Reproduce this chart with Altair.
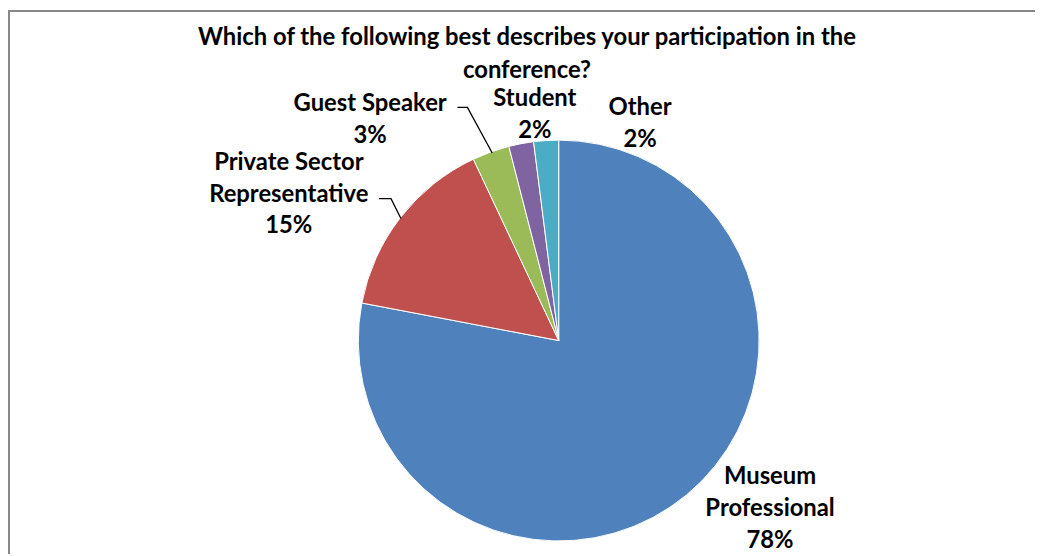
import altair as alt
import pandas as pd

# Data
categories = ["Museum Professional", "Private Sector Representative", "Guest Speaker", "Student", "Other"]
values = [78, 15, 3, 2, 2]
colors = ["#4F81BD", "#C0504D", "#9BBB59", "#8064A2", "#4BACC6"]

title_lines = ["Which of the following best describes your participation in the", "conference?"]

label_lines = {
    "Museum Professional": ["Museum", "Professional", "78%"],
    "Private Sector Representative": ["Private Sector", "Representative", "15%"],
    "Guest Speaker": ["Guest Speaker", "3%"],
    "Student": ["Student", "2%"],
    "Other": ["Other", "2%"],
}

# Layout (pixel positions in plot coordinates)
W, H = 1035, 548
DX, DY = 4, 3
CX, CY, R = 551 + DX, 333, 202
FONT = "Lato"
FS = 24
LH = 32
label_anchor = {
    "Museum Professional": (764, 468),
    "Private Sector Representative": (279, 151),
    "Guest Speaker": (361, 92),
    "Student": (527, 87),
    "Other": (633, 96),
}
leaders = {
    "Guest Speaker": [(449, 97), (459, 97), (484, 143)],
    "Private Sector Representative": [(370, 189), (382, 189), (392, 209)],
}
title_pos = [(519, 25), (519, 58)]

pie_df = pd.DataFrame({"category": categories, "value": values, "idx": list(range(len(categories)))})

lab_rows = []
for c in categories:
    x0, y0 = label_anchor[c]
    for i, t in enumerate(label_lines[c]):
        lab_rows.append({"t": t, "px": x0 + DX, "py": y0 + i * LH + DY})
for i, t in enumerate(title_lines):
    lab_rows.append({"t": t, "px": title_pos[i][0] + DX, "py": title_pos[i][1] + DY})
lab_df = pd.DataFrame(lab_rows)

lead_rows = []
for c, pts in leaders.items():
    for j, (x, y) in enumerate(pts):
        lead_rows.append({"g": c, "o": j, "px": x + DX, "py": y + 1})
lead_df = pd.DataFrame(lead_rows)

xs = alt.Scale(domain=[0, W], range=[0, W])
ys = alt.Scale(domain=[0, H], range=[0, H])

pie = alt.Chart(pie_df).mark_arc(radius=R, stroke="white", strokeWidth=1).encode(
    theta=alt.Theta("value:Q", stack=True),
    color=alt.Color("category:N", scale=alt.Scale(domain=categories, range=colors), legend=None),
    order=alt.Order("idx:Q"),
    x=alt.value(CX),
    y=alt.value(CY),
)

text = alt.Chart(lab_df).mark_text(font=FONT, fontSize=FS, fontWeight="bold", color="black",
                                   align="center", baseline="middle").encode(
    x=alt.X("px:Q", scale=xs, axis=None),
    y=alt.Y("py:Q", scale=ys, axis=None),
    text="t:N",
)

lead = alt.Chart(lead_df).mark_line(color="black", strokeWidth=1.3).encode(
    x=alt.X("px:Q", scale=xs, axis=None),
    y=alt.Y("py:Q", scale=ys, axis=None),
    detail="g:N",
    order="o:Q",
)

border_left = alt.Chart(pd.DataFrame({"a": [0]})).mark_rule(color="#888888", strokeWidth=2).encode(
    x=alt.value(1), y=alt.value(0), y2=alt.value(H))
border_top = alt.Chart(pd.DataFrame({"a": [0]})).mark_rule(color="#888888", strokeWidth=2).encode(
    y=alt.value(1), x=alt.value(0), x2=alt.value(W))

chart = alt.layer(pie, lead, text, border_left, border_top).properties(
    width=W, height=H, padding=0, autosize=alt.AutoSizeParams(type="none"),
    background="white",
).configure_view(stroke=None)

chart.save("out.html", embed_options={"renderer": "svg", "actions": False})
